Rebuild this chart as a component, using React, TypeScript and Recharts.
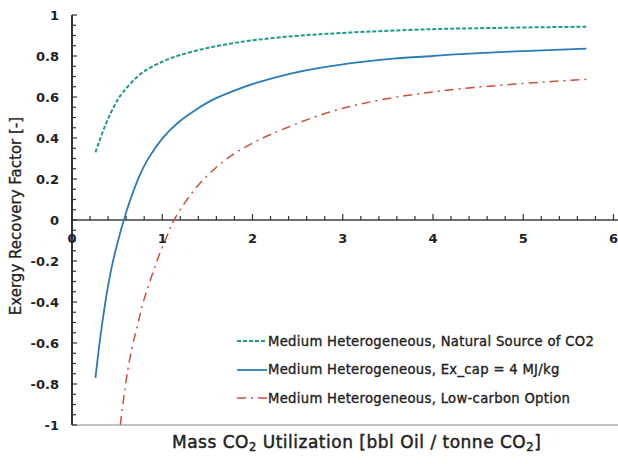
import { LineChart, Line, XAxis, YAxis, ReferenceLine, Legend } from 'recharts';

// values
const NATURAL_X = [0.26, 0.37, 0.48, 0.57, 0.74, 0.92, 1.1, 1.29, 1.48, 1.66, 1.85, 2.05, 2.45, 2.82, 3.19, 3.56, 3.93, 4.3, 5.0, 5.7];
const NATURAL_Y = [0.33, 0.463, 0.566, 0.626, 0.705, 0.755, 0.79, 0.816, 0.837, 0.853, 0.867, 0.879, 0.897, 0.908, 0.917, 0.924, 0.93, 0.934, 0.939, 0.943];

const EXCAP_X = [0.26, 0.31, 0.37, 0.44, 0.52, 0.575, 0.63, 0.74, 0.85, 1.0, 1.18, 1.37, 1.59, 1.85, 2.05, 2.41, 2.78, 3.19, 3.56, 4.0, 4.3, 5.0, 5.7];
const EXCAP_Y = [-0.77, -0.585, -0.4, -0.23, -0.085, 0, 0.078, 0.208, 0.303, 0.397, 0.477, 0.537, 0.593, 0.64, 0.67, 0.713, 0.745, 0.77, 0.787, 0.8, 0.809, 0.824, 0.836];

const LOWC_X = [0.535, 0.59, 0.66, 0.74, 0.79, 0.89, 0.98, 1.07, 1.13, 1.26, 1.42, 1.62, 1.81, 2.01, 2.2, 2.45, 2.82, 3.19, 3.56, 3.93, 4.3, 5.0, 5.7];
const LOWC_Y = [-1.0, -0.813, -0.634, -0.488, -0.4, -0.265, -0.155, -0.06, 0, 0.09, 0.18, 0.265, 0.327, 0.377, 0.417, 0.463, 0.522, 0.565, 0.597, 0.621, 0.64, 0.666, 0.686];

const SERIES_NAMES = [
  'Medium Heterogeneous, Natural Source of CO2',
  'Medium Heterogeneous, Ex_cap = 4 MJ/kg',
  'Medium Heterogeneous, Low-carbon Option',
];

const X_TICKS = Array.from({ length: 31 }, (_, i) => Number((i * 0.2).toFixed(1)));
const Y_TICKS = Array.from({ length: 41 }, (_, i) => Number((-1 + i * 0.05).toFixed(2)));

const W = 618;
const H = 464;
const TOP = 15;
const X_AXIS_H = 39;
const PLOT_H = H - TOP - X_AXIS_H;
const FONT = '"DejaVu Sans", sans-serif';

const zip = (xs: number[], ys: number[]) => xs.map((x, i) => ({ x, y: ys[i] }));

const series = [
  { name: SERIES_NAMES[0], data: zip(NATURAL_X, NATURAL_Y), color: '#1e9a8b', dash: '4 2', width: 2 },
  { name: SERIES_NAMES[1], data: zip(EXCAP_X, EXCAP_Y), color: '#2b7bb9', dash: undefined, width: 1.8 },
  { name: SERIES_NAMES[2], data: zip(LOWC_X, LOWC_Y), color: '#cc4f38', dash: '9 5 2 5', width: 1.5 },
];

const isMult = (v: number, step: number) => Math.abs(v / step - Math.round(v / step)) < 1e-6;

function YTick({ x, y, payload }: any) {
  const v = payload.value;
  const major = isMult(v, 0.2);
  return (
    <g>
      <line x1={x} x2={x + (major ? 5 : 4)} y1={y} y2={y} stroke="#333" strokeWidth={1.2} />
      {major && (
        <text x={x - 13} y={y} dy={5} textAnchor="end" fontFamily={FONT} fontWeight="bold" fontSize={13} fill="#222">
          {Number(v.toFixed(1)).toString()}
        </text>
      )}
    </g>
  );
}

function XTick({ x, y, payload }: any) {
  const v = payload.value;
  const major = isMult(v, 1);
  const y0 = y - PLOT_H / 2; // axis crosses at y = 0 (middle of a symmetric domain)
  return (
    <g>
      <line x1={x} x2={x} y1={y0 - (major ? 6 : 4)} y2={y0} stroke="#333" strokeWidth={1.2} />
      {major && (
        <text x={x} y={y0 + 23} textAnchor="middle" fontFamily={FONT} fontWeight="bold" fontSize={13} fill="#222">
          {v}
        </text>
      )}
    </g>
  );
}

function LegendBox() {
  return (
    <div style={{ fontFamily: FONT, fontSize: 13.2, letterSpacing: 0.3, color: '#222', WebkitTextStroke: '0.35px #222' }}>
      {series.map((s) => (
        <div key={s.name} style={{ display: 'flex', alignItems: 'center', height: 28.5 }}>
          <svg width={31} height={10}>
            <line x1={0} x2={30} y1={5} y2={5} stroke={s.color} strokeWidth={s.width} strokeDasharray={s.dash} />
          </svg>
          <span style={{ whiteSpace: 'nowrap' }}>{s.name}</span>
        </div>
      ))}
    </div>
  );
}

const subStyle = { fontSize: '68%', verticalAlign: -3 };

export default function App() {
  return (
    <div style={{ position: 'absolute', left: 0, top: 0, width: W, height: H, fontFamily: FONT, background: '#fff' }}>
      <LineChart width={W} height={H} margin={{ top: TOP, right: 0, bottom: 0, left: 0 }}>
        <XAxis
          dataKey="x"
          type="number"
          domain={[0, 6.05]}
          ticks={X_TICKS}
          interval={0}
          allowDataOverflow
          height={X_AXIS_H}
          tickSize={0}
          tickMargin={0}
          tick={<XTick />}
          axisLine={{ stroke: '#888', strokeWidth: 1.2 }}
          tickLine={false}
        />
        <XAxis
          xAxisId="top"
          orientation="top"
          type="number"
          domain={[0, 6.05]}
          height={0}
          tick={false}
          tickLine={false}
          axisLine={{ stroke: '#333', strokeWidth: 1.6 }}
        />
        <YAxis
          type="number"
          domain={[-1, 1]}
          ticks={Y_TICKS}
          interval={0}
          allowDataOverflow
          width={72}
          tickSize={0}
          tickMargin={0}
          tick={<YTick />}
          tickLine={false}
          axisLine={{ stroke: '#333', strokeWidth: 2 }}
        />
        <ReferenceLine y={0} stroke="#6f6f6f" strokeWidth={2} />
        {series.map((s) => (
          <Line
            key={s.name}
            name={s.name}
            data={s.data}
            dataKey="y"
            type="natural"
            stroke={s.color}
            strokeWidth={s.width}
            strokeDasharray={s.dash}
            dot={false}
            activeDot={false}
            isAnimationActive={false}
          />
        ))}
        <Legend
          layout="vertical"
          align="center"
          verticalAlign="middle"
          content={<LegendBox />}
          wrapperStyle={{ left: 237, top: 327, width: 380, height: 90 }}
        />
      </LineChart>
      <div
        style={{
          position: 'absolute',
          left: 172,
          top: 432,
          fontSize: 17,
          letterSpacing: 0.5,
          color: '#222',
          WebkitTextStroke: '0.45px #222',
          whiteSpace: 'nowrap',
        }}
      >
        Mass CO<sub style={subStyle}>2</sub> Utilization [bbl Oil / tonne CO<sub style={subStyle}>2</sub>]
      </div>
      <div
        style={{
          position: 'absolute',
          left: 16,
          top: 216,
          transform: 'translate(-50%, -50%) rotate(-90deg)',
          fontSize: 15,
          color: '#222',
          WebkitTextStroke: '0.3px #222',
          whiteSpace: 'nowrap',
        }}
      >
        Exergy Recovery Factor [-]
      </div>
    </div>
  );
}
